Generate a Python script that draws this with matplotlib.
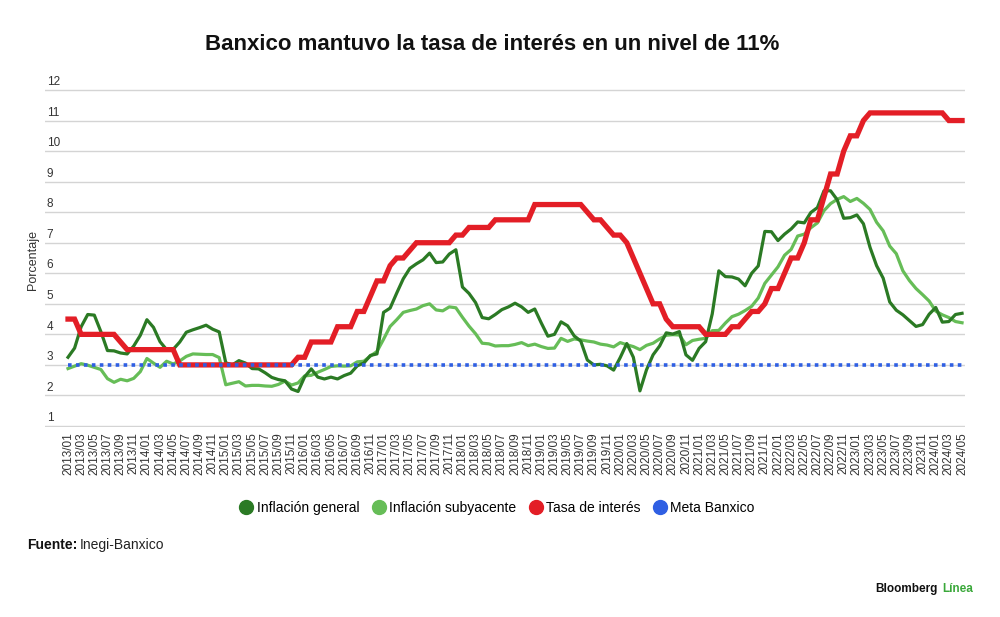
import numpy as np
import pandas as pd
import matplotlib
matplotlib.use("Agg")
import matplotlib.pyplot as plt
from matplotlib.lines import Line2D

# monthly data 2013/01 .. 2024/05
months = pd.date_range("2013-01-01", "2024-05-01", freq="MS").strftime("%Y/%m").tolist()

inflacion_general = [
    3.25, 3.55, 4.25, 4.65, 4.63, 4.09, 3.47, 3.46, 3.39, 3.36, 3.62, 3.97,
    4.48, 4.23, 3.76, 3.50, 3.51, 3.75, 4.07, 4.15, 4.22, 4.30, 4.17, 4.08,
    3.07, 3.00, 3.14, 3.06, 2.88, 2.87, 2.74, 2.59, 2.52, 2.48, 2.21, 2.13,
    2.61, 2.87, 2.60, 2.54, 2.60, 2.54, 2.65, 2.73, 2.97, 3.06, 3.31, 3.36,
    4.72, 4.86, 5.35, 5.82, 6.16, 6.31, 6.44, 6.66, 6.35, 6.37, 6.63, 6.77,
    5.55, 5.34, 5.04, 4.55, 4.51, 4.65, 4.81, 4.90, 5.02, 4.90, 4.72, 4.83,
    4.37, 3.94, 4.00, 4.41, 4.28, 3.95, 3.78, 3.16, 3.00, 3.02, 2.97, 2.83,
    3.24, 3.70, 3.25, 2.15, 2.84, 3.33, 3.62, 4.05, 4.01, 4.09, 3.33, 3.15,
    3.54, 3.76, 4.67, 6.08, 5.89, 5.88, 5.81, 5.59, 6.00, 6.24, 7.37, 7.36,
    7.07, 7.28, 7.45, 7.68, 7.65, 7.99, 8.15, 8.70, 8.70, 8.41, 7.80, 7.82,
    7.91, 7.62, 6.85, 6.25, 5.84, 5.06, 4.79, 4.64, 4.45, 4.26, 4.32, 4.66,
    4.88, 4.40, 4.42, 4.65, 4.69,
]

inflacion_subyacente = [
    2.88, 2.96, 3.04, 2.99, 2.92, 2.85, 2.55, 2.43, 2.53, 2.48, 2.56, 2.78,
    3.21, 3.06, 2.92, 3.12, 3.03, 3.13, 3.28, 3.36, 3.35, 3.34, 3.34, 3.24,
    2.35, 2.40, 2.45, 2.31, 2.33, 2.33, 2.31, 2.30, 2.36, 2.47, 2.34, 2.41,
    2.64, 2.66, 2.76, 2.85, 2.95, 2.97, 2.96, 2.97, 3.10, 3.12, 3.29, 3.44,
    3.84, 4.26, 4.48, 4.72, 4.78, 4.83, 4.94, 5.00, 4.80, 4.77, 4.90, 4.87,
    4.56, 4.27, 4.02, 3.71, 3.69, 3.62, 3.63, 3.63, 3.67, 3.73, 3.63, 3.68,
    3.60, 3.54, 3.55, 3.87, 3.77, 3.85, 3.82, 3.78, 3.75, 3.68, 3.65, 3.59,
    3.73, 3.66, 3.60, 3.50, 3.64, 3.71, 3.85, 3.97, 3.99, 3.98, 3.66, 3.80,
    3.84, 3.87, 4.12, 4.13, 4.37, 4.58, 4.66, 4.78, 4.92, 5.19, 5.67, 5.94,
    6.21, 6.59, 6.78, 7.22, 7.28, 7.49, 7.65, 8.05, 8.28, 8.42, 8.51, 8.35,
    8.45, 8.29, 8.09, 7.67, 7.39, 6.89, 6.64, 6.08, 5.76, 5.50, 5.30, 5.09,
    4.76, 4.64, 4.55, 4.42, 4.38,
]

tasa_interes = [
    4.5, 4.5, 4.0, 4.0, 4.0, 4.0, 4.0, 4.0, 3.75, 3.5, 3.5, 3.5,
    3.5, 3.5, 3.5, 3.5, 3.5, 3.0, 3.0, 3.0, 3.0, 3.0, 3.0, 3.0,
    3.0, 3.0, 3.0, 3.0, 3.0, 3.0, 3.0, 3.0, 3.0, 3.0, 3.0, 3.25,
    3.25, 3.75, 3.75, 3.75, 3.75, 4.25, 4.25, 4.25, 4.75, 4.75, 5.25, 5.75,
    5.75, 6.25, 6.5, 6.5, 6.75, 7.0, 7.0, 7.0, 7.0, 7.0, 7.0, 7.25,
    7.25, 7.5, 7.5, 7.5, 7.5, 7.75, 7.75, 7.75, 7.75, 7.75, 7.75, 8.25,
    8.25, 8.25, 8.25, 8.25, 8.25, 8.25, 8.25, 8.0, 7.75, 7.75, 7.5, 7.25,
    7.25, 7.0, 6.5, 6.0, 5.5, 5.0, 5.0, 4.5, 4.25, 4.25, 4.25, 4.25,
    4.25, 4.0, 4.0, 4.0, 4.0, 4.25, 4.25, 4.5, 4.75, 4.75, 5.0, 5.5,
    5.5, 6.0, 6.5, 6.5, 7.0, 7.75, 7.75, 8.5, 9.25, 9.25, 10.0, 10.5,
    10.5, 11.0, 11.25, 11.25, 11.25, 11.25, 11.25, 11.25, 11.25, 11.25, 11.25, 11.25,
    11.25, 11.25, 11.0, 11.0, 11.0,
]

meta_banxico = [3.0] * len(months)

c_general = "#2b7a24"
c_suby = "#66bd57"
c_tasa = "#e31e26"
c_meta = "#2f5fe3"

plt.rcParams["font.family"] = ["Liberation Sans", "DejaVu Sans"]

fig = plt.figure(figsize=(10, 6.17), dpi=100)
# axes runs from value 1 (y=426px) to 12 (y=90px), padded a bit so edge grid lines show
pad = 0.03
unit = (426 - 90) / 11 / 617
ax = fig.add_axes([0.045, 1 - 426 / 617 - pad * unit, 0.92, (426 - 90) / 617 + 2 * pad * unit])

x = np.arange(len(months))
ax.plot(x, inflacion_subyacente, color=c_suby, lw=2.3, zorder=3, solid_joinstyle="round")
ax.plot(x, inflacion_general, color=c_general, lw=2.3, zorder=4, solid_joinstyle="round")
ax.plot(x, tasa_interes, color=c_tasa, lw=3.8, zorder=5, solid_joinstyle="miter")
ax.plot(x, meta_banxico, color=c_meta, lw=2.6, ls=(0, (1, 1.2)), zorder=6,
        dash_capstyle="butt")

ax.set_xlim(-3.5, 136.45)
ax.set_ylim(1 - pad, 12 + pad)
ax.set_yticks(range(1, 13))
ax.grid(axis="y", color="#d4d4d4", lw=1)
ax.set_axisbelow(True)
for s in ax.spines.values():
    s.set_visible(False)
ax.tick_params(axis="y", length=0, labelleft=False)
for v in range(1, 13):
    ax.text(0.002, v + 0.06, str(v), transform=ax.get_yaxis_transform(),
            fontsize=8.5, color="#333333", va="bottom", ha="left")

ax.set_xticks(x[::2])
ax.set_xticklabels(months[::2], rotation=90, fontsize=8.5, color="#333333")
ax.tick_params(axis="x", length=0, pad=4)

fig.text(0.033, 1 - 260 / 617, "Porcentaje", rotation=90, fontsize=9,
         color="#333333", ha="center", va="center")

fig.text(0.492, 1 - 45 / 617, "Banxico mantuvo la tasa de interés en un nivel de 11%",
         ha="center", va="center", fontsize=16, fontweight="bold", color="#111111")

handles = [Line2D([], [], ls="", marker="o", markersize=10, color=c)
           for c in (c_general, c_suby, c_tasa, c_meta)]
labels = ["Inflación general", "Inflación subyacente", "Tasa de interés", "Meta Banxico"]
fig.legend(handles, labels, loc="center", bbox_to_anchor=(0.497, 1 - 508 / 617),
           ncol=4, frameon=False, prop={"size": 10},
           handletextpad=0.25, columnspacing=0.9, handlelength=1.0)

t = fig.text(0.027, 1 - 545 / 617, "Fuente:", fontsize=10, fontweight="bold",
             va="center", color="#111111")
fig.canvas.draw()
bb = t.get_window_extent()
fig.text(bb.x1 / fig.bbox.width + 0.002, 1 - 545 / 617, "Inegi-Banxico", fontsize=10,
         va="center", color="#222222")

t2 = fig.text(0.973, 1 - 589 / 617, "Línea", fontsize=8.5, fontweight="bold",
              va="center", ha="right", color="#3aa83a")
fig.canvas.draw()
bb2 = t2.get_window_extent()
fig.text(bb2.x0 / fig.bbox.width - 0.004, 1 - 589 / 617, "Bloomberg", fontsize=8.5,
         fontweight="bold", va="center", ha="right", color="#111111")

fig.savefig("out.png", dpi=100)
